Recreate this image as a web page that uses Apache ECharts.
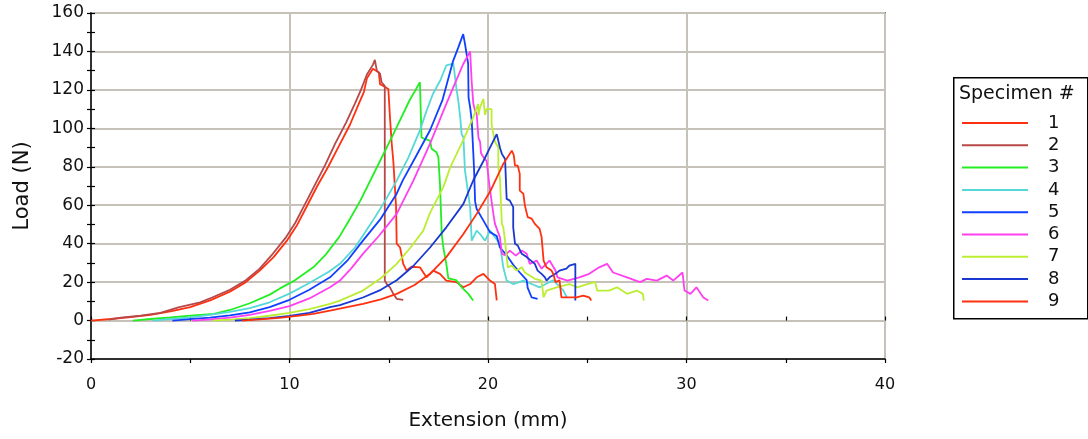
<!DOCTYPE html>
<html>
<head>
<meta charset="utf-8">
<script src="https://cdn.jsdelivr.net/npm/echarts@6/dist/echarts.min.js"></script>
<style>
  html, body { margin: 0; padding: 0; background: #fff; }
  #chart { width: 1088px; height: 439px; }
</style>
</head>
<body>
<div id="chart"></div>
<script>
// Load (N) against extension (mm) for nine test specimens, [extension, load] pairs.
const specimenNames = ['1', '2', '3', '4', '5', '6', '7', '8', '9'];
const specimenColors = ['#ff3010', '#b84848', '#22ee22', '#55d8d8', '#1040ff', '#ff40f0', '#bbee33', '#1838d0', '#ff3010'];

const spec1 = [[0,0],[1,0.8],[2,1.8],[3,3],[4,4.8],[5,7],[6,10.5],[7,15],[7.8,20],[8.5,26],[9.2,33],[9.9,42],[10.4,50],[10.9,60],[11.4,70],[11.95,80],[12.5,91],[13.05,102],[13.5,113],[13.75,119],[13.9,126],[14.0,125],[14.2,131],[14.5,129],[14.56,123],[14.73,122],[14.98,120.5],[15.06,106],[15.15,92],[15.23,83],[15.3,71],[15.37,59],[15.4,40],[15.57,38],[15.73,29.5],[15.9,26],[16.15,28],[16.57,27.7],[16.9,22.5],[17.24,26],[17.58,24.3],[17.9,20.8],[18.4,20],[18.76,17.3],[19.1,19],[19.43,22.5],[19.77,24.3],[20.1,20.8],[20.35,19],[20.44,10.5]];
const spec2 = [[0.9,0.5],[1.5,1.5],[2.5,2.6],[3.5,4],[4.4,6.8],[5.5,9.5],[6.1,12],[7,16],[7.8,21],[8.5,27],[9.1,34],[9.8,43],[10.3,51],[10.8,61],[11.3,71],[11.8,81],[12.3,92],[12.85,103],[13.3,113],[13.6,120],[13.9,128],[14.2,133],[14.3,135.6],[14.4,130],[14.56,128.4],[14.64,124],[14.73,123],[14.8,122],[14.8,20.8],[14.9,19],[15.06,17.3],[15.23,13.9],[15.4,11.3],[15.73,10.8]];
const spec3 = [[2.1,0],[3,0.8],[4,1.6],[5,2.6],[6.2,3.5],[7,5.5],[8,9],[9,13.5],[9.5,16.6],[10.2,20.5],[11.2,27.7],[11.8,34],[12.5,43.4],[13.05,53],[13.55,62],[14.56,83],[15.23,97],[16.07,115],[16.3,119],[16.57,124],[16.65,95.4],[16.8,94.5],[17.08,93.6],[17.16,89.4],[17.4,87.6],[17.5,85],[17.58,71],[17.67,45],[17.75,38],[17.9,29.5],[18.0,22],[18.1,22],[18.4,21],[18.7,17],[19.0,14],[19.25,10.4]];
const spec4 = [[3.1,0],[4,0.8],[5,1.7],[6,3],[7,4.5],[8,6.5],[9,9.5],[10,14],[11,19.5],[12,25.5],[12.54,29.5],[13.3,38],[14.2,52],[14.8,62],[15.4,72.8],[16,85],[16.57,98.9],[16.9,109],[17.23,118],[17.6,125],[17.9,132.7],[18.25,133.6],[18.3,130],[18.4,121.4],[18.5,114.5],[18.6,105.8],[18.67,97],[18.76,95.4],[18.84,78],[19.1,59],[19.18,41.6],[19.43,46.8],[19.6,45],[19.85,41.6],[20.1,46.8],[20.35,43.4],[20.6,40],[20.77,27.7],[20.94,20.8],[21.27,19],[21.78,20.8],[22.2,19],[22.6,17.3],[23.28,21],[23.8,15.6],[23.97,12]];
const spec5 = [[4.1,0],[5,0.7],[6,1.5],[7,2.7],[8,4.3],[9,7],[10,10.8],[11,16],[12.04,22.5],[12.9,31],[13.7,41.6],[14.56,52.5],[15.4,66],[15.7,72.8],[16.4,86],[17.08,99],[17.7,114.5],[18.24,135],[18.5,142],[18.75,149],[18.84,144],[19.0,133.6],[19.02,116],[19.1,111],[19.18,104],[19.26,87],[19.3,78],[19.35,62],[19.43,58],[19.77,52],[20.1,46],[20.44,44],[20.6,38],[20.94,34],[21.27,29],[21.6,25],[21.95,21],[22.0,17],[22.2,12],[22.5,11.3]];
const spec6 = [[5.1,0],[6,0.6],[7,1.5],[8,3],[9,5],[10,7.5],[11,11.5],[12.04,17.3],[12.54,20.8],[13.1,27],[13.7,34.7],[14.5,44],[15.4,55.5],[16.24,72.8],[17.08,92],[17.9,112.7],[18.4,125],[18.76,133.6],[19.1,140],[19.18,124],[19.26,113],[19.35,109],[19.43,107.5],[19.52,95],[19.6,93],[19.65,87],[19.77,85],[19.93,83],[20.1,68],[20.27,55.5],[20.35,50.3],[20.6,43.4],[20.7,34.7],[20.86,34],[21.1,36.4],[21.4,33.8],[21.7,36.4],[21.95,34.7],[22.1,29.5],[22.45,31.2],[22.7,27],[23.1,31.2],[23.4,26],[23.5,22.5],[24.0,20.8],[24.6,22.5],[25.1,24.3],[25.6,27.7],[26.0,29.5],[26.3,25],[27.0,22.5],[27.66,20],[28.0,21.7],[28.5,20.8],[29.0,23.4],[29.33,20.8],[29.8,25],[29.9,15.6],[30.2,13.9],[30.5,17.3],[30.85,12],[31.1,10.4]];
const spec7 = [[6.15,0],[7,0.5],[8,1.3],[9,2.5],[10,4],[11,6],[12.04,8.7],[12.54,10.4],[13.7,15.6],[14.6,22],[15.4,29.5],[16.1,38],[16.74,46.8],[17.08,56],[17.75,69.4],[18.1,79.8],[18.76,94],[19.26,105.8],[19.5,112.7],[19.52,106.7],[19.6,111],[19.77,115.3],[19.85,107],[19.93,110],[20.18,110],[20.18,102],[20.35,93],[20.52,90],[20.52,80],[20.6,74],[20.7,50.3],[20.77,48.5],[20.86,41.6],[20.94,33],[21.0,27.7],[21.2,28.6],[21.44,26],[21.7,27.7],[21.86,25],[22.1,23.4],[22.36,21.7],[22.7,20.8],[22.8,12],[22.95,15.6],[23.46,17.3],[24.1,19],[24.5,17.3],[25.0,19],[25.4,20],[25.5,15.6],[26.1,15.6],[26.5,17.3],[27.0,13.9],[27.5,15.6],[27.8,13.9],[27.85,10.4]];
const spec8 = [[7.25,0],[8,0.5],[9,1.3],[10,2.4],[11,4],[12.04,7],[12.54,8],[13.7,12],[14.6,16],[15.4,21],[16.2,28],[17.08,38],[17.9,48.5],[18.76,60.7],[19.26,73],[19.77,83],[20.1,90],[20.44,97],[20.52,98],[20.6,90],[20.7,86.7],[20.86,84],[20.94,63.3],[21.1,62.4],[21.27,59],[21.27,48.5],[21.36,40],[21.5,39],[21.7,34.7],[21.95,33],[22.36,29.5],[22.5,26],[22.7,24.3],[22.87,22.5],[22.95,20.8],[23.1,22.5],[23.4,24.3],[23.6,26],[23.95,27],[24.1,28.6],[24.4,29.5],[24.4,10.4]];
const spec9 = [[7.6,0],[8.5,0.6],[9.5,1.4],[10.5,2.6],[11.2,3.5],[12.04,5.2],[13.7,8.7],[14.6,11],[15.4,13.9],[16.3,18.5],[17.08,24.3],[17.9,33],[18.76,45],[19.43,55.5],[20.1,67],[20.77,81.5],[21.2,88.4],[21.3,86],[21.36,80.6],[21.5,80.6],[21.6,76.3],[21.6,67.6],[21.78,66],[21.86,59.8],[22.0,53.8],[22.2,53],[22.36,50.3],[22.6,47.7],[22.7,43.4],[22.8,31.2],[22.95,27.7],[23.2,26],[23.3,24],[23.4,20],[23.6,21],[23.7,12.1],[24.46,12.1],[24.8,13],[25.1,12.1],[25.2,10.4]];

const specimenData = [spec1, spec2, spec3, spec4, spec5, spec6, spec7, spec8, spec9];

const FONT = 'DejaVu Sans';
const gridColor = '#c6c2ba';
const tickStyle = { color: '#000', width: 1.2 };

const chart = echarts.init(document.getElementById('chart'), null, { renderer: 'canvas' });

const commonX = { type: 'value', min: 0, max: 40, interval: 10, position: 'bottom' };
const commonY = { type: 'value', min: -20, max: 160, interval: 20, position: 'left' };

chart.setOption({
  animation: false,
  backgroundColor: '#fff',
  grid: {
    left: 91, top: 13, right: 203, bottom: 80,
    show: true, borderColor: '#000', borderWidth: 1.5, backgroundColor: 'transparent'
  },
  xAxis: [
    Object.assign({}, commonX, {
      name: 'Extension (mm)', nameLocation: 'middle', nameGap: 52,
      nameTextStyle: { fontFamily: FONT, fontSize: 20, color: '#111' },
      axisLine: { show: true, onZero: false, lineStyle: { color: '#000', width: 1.5 } },
      axisTick: { show: true, length: 4, lineStyle: tickStyle },
      minorTick: { show: true, splitNumber: 2, length: 4, lineStyle: tickStyle },
      axisLabel: { margin: 18, fontFamily: FONT, fontSize: 16, color: '#111' },
      splitLine: { show: true, lineStyle: { color: gridColor, width: 2 } }
    }),
    // second copy of the axis carries the inward half of the crossing ticks
    Object.assign({}, commonX, {
      axisLine: { show: false },
      axisTick: { show: true, inside: true, length: 4, lineStyle: tickStyle },
      minorTick: { show: true, splitNumber: 2, length: 4, lineStyle: tickStyle },
      axisLabel: { show: false },
      splitLine: { show: false }
    })
  ],
  yAxis: [
    Object.assign({}, commonY, {
      name: 'Load (N)', nameLocation: 'middle', nameGap: 58, nameRotate: 90,
      nameTextStyle: { fontFamily: FONT, fontSize: 21, color: '#111' },
      axisLine: { show: true, onZero: false, lineStyle: { color: '#000', width: 1.5 } },
      axisTick: { show: true, length: 4, lineStyle: tickStyle },
      minorTick: { show: true, splitNumber: 2, length: 4, lineStyle: tickStyle },
      axisLabel: { margin: 7, fontFamily: FONT, fontSize: 17, color: '#111' },
      splitLine: { show: true, lineStyle: { color: gridColor, width: 2 } }
    }),
    Object.assign({}, commonY, {
      axisLine: { show: false },
      axisTick: { show: true, inside: true, length: 4, lineStyle: tickStyle },
      minorTick: { show: true, splitNumber: 2, length: 4, lineStyle: tickStyle },
      axisLabel: { show: false },
      splitLine: { show: false }
    })
  ],
  legend: {
    orient: 'vertical', left: 957, top: 107,
    itemWidth: 66, itemHeight: 2, itemGap: 0.3, icon: 'rect',
    selectedMode: false,
    data: specimenNames,
    formatter: name => '{n|' + name + '}',
    textStyle: {
      fontFamily: FONT, fontSize: 18, color: '#111', lineHeight: 22,
      rich: { n: { fontFamily: FONT, fontSize: 18, color: '#111', lineHeight: 22, padding: [0, 0, 0, 15] } }
    }
  },
  graphic: [
    { type: 'rect', left: 953, top: 77, z: 0,
      shape: { width: 134, height: 241 },
      style: { fill: '#fff', stroke: '#000', lineWidth: 1.5 } },
    { type: 'text', left: 959, top: 85, z: 1,
      style: { text: 'Specimen #', fontFamily: FONT, fontSize: 19, fill: '#111' } }
  ],
  series: specimenData.map((d, i) => ({
    name: specimenNames[i],
    type: 'line',
    data: d,
    color: specimenColors[i],
    showSymbol: false,
    symbol: 'none',
    lineStyle: { width: 1.8, color: specimenColors[i] },
    xAxisIndex: 0, yAxisIndex: 0
  }))
});
</script>
</body>
</html>
